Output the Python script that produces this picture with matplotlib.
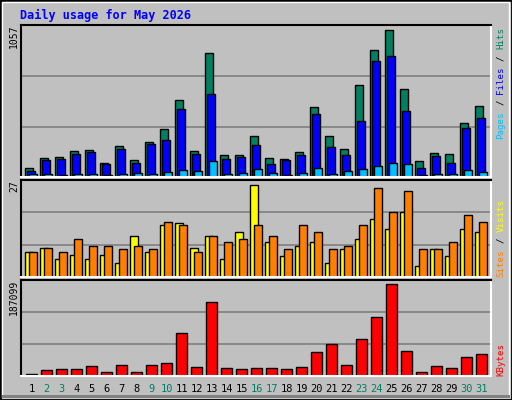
import matplotlib
matplotlib.use("Agg")
import matplotlib.pyplot as plt
from matplotlib.patches import Rectangle
import numpy as np

days = list(range(1, 32))
hits = [61,130,140,180,186,96,214,117,242,333,536,180,871,151,151,284,130,124,172,487,284,193,641,892,1032,613,110,165,158,375,494]
files = [44,117,126,158,172,89,193,96,228,256,473,158,578,124,137,221,89,117,151,438,207,151,389,809,850,459,61,144,96,340,410]
pages = [19,19,12,19,19,12,19,26,19,33,47,40,110,19,26,54,26,12,26,61,19,40,54,75,96,89,12,19,19,47,33]
visits = [7,8,5,6,5,6,4,11.5,7,14.5,15,8,11.5,5,12.6,25.6,9.8,5.9,8.7,9.8,4,7.9,10.6,16.2,13.4,18.1,3.1,7.9,5.9,13.4,12.6]
sites = [7,8,7,10.6,8.7,8.7,7.9,8.7,7.9,15.4,14.5,7,11.5,9.8,10.6,14.5,11.5,7.9,14.5,12.6,7.9,8.7,14.5,24.8,18.1,24,7.9,7.9,9.8,17.3,15.4]
kbytes = [3250,11000,13650,13650,18850,7150,20800,7150,20800,24700,83200,16900,143650,14950,13000,14950,14950,13000,16900,46150,61750,20800,71500,114400,178750,48100,7150,18850,14950,36400,42250]
weekend = [2,3,9,10,16,17,23,24,30,31]
max_hits, max_sites, max_kb = 1057, 27, 187099

BG = "#C0C0C0"
W, H = 512, 400
fig = plt.figure(figsize=(5.12, 4.0), dpi=100, facecolor=BG)
mono = "DejaVu Sans Mono"

def fx(px): return px / W
def fy(py): return 1 - py / H

fig.patches.append(Rectangle((0, 0), 1, 1, transform=fig.transFigure, fill=False, ec="black", lw=2))
fig.patches.append(Rectangle((fx(2), fy(397)), fx(507), 395/H, transform=fig.transFigure, fill=False, ec="white", lw=1))
fig.patches.append(Rectangle((fx(2), fy(398)), fx(508), 3/H, transform=fig.transFigure, fc="#808080", ec="none"))

x0 = 1 - 4/15
x1 = 1 + 466/15
d = np.array(days, dtype=float)

def mkax(top, bot):
    ax = fig.add_axes([fx(21), fy(bot), fx(470), (bot - top)/H])
    ax.set_facecolor(BG)
    ax.set_xlim(x0, x1)
    ax.set_xticks([]); ax.set_yticks([])
    ax.spines['top'].set_color('black'); ax.spines['left'].set_color('black')
    ax.spines['bottom'].set_color('white'); ax.spines['right'].set_color('white')
    for s in ax.spines.values(): s.set_linewidth(1.5)
    return ax

a1 = mkax(25, 177)
a1.set_ylim(0, max_hits * 152/151)
for g in (max_hits/3, 2*max_hits/3):
    a1.axhline(g, color="#808080", lw=1.2, zorder=0)
kw = dict(align='edge', edgecolor='black', linewidth=1)
a1.bar(d, hits, 8/15, color="#008060", **kw)
a1.bar(d + 2/15, files, 8/15, color="#0000FF", **kw)
a1.bar(d + 4/15, pages, 8/15, color="#00C0FF", **kw)

a2 = mkax(180, 277)
a2.set_ylim(0, max_sites)
for g in (9, 18):
    a2.axhline(g, color="#808080", lw=1.2, zorder=0)
a2.bar(d, visits, 8/15, color="#FFFF00", **kw)
a2.bar(d + 4/15, sites, 8/15, color="#FF8000", **kw)

a3 = mkax(280, 376)
a3.set_ylim(0, max_kb)
for g in (max_kb/3, 2*max_kb/3):
    a3.axhline(g, color="#808080", lw=1.2, zorder=0)
a3.bar(d + 1/15, kbytes, 11/15, color="#FF0000", **kw)

for i in days:
    px = 25 + 15*(i-1) + 6.5
    fig.text(fx(px), fy(389), str(i), ha='center', va='center', family=mono, fontsize=7.5,
             color="#008060" if i in weekend else "black")

fig.text(fx(20), fy(15), "Daily usage for May 2026", ha='left', va='center', family=mono,
         fontsize=8.5, fontweight='bold', color="#0000FF")

for top, lab in ((25, str(max_hits)), (180, str(max_sites)), (280, str(max_kb))):
    fig.text(fx(14), fy(top), lab, rotation=90, ha='center', va='top', family=mono, fontsize=7)

def rlabel(bottom, parts, cw=5.6):
    off = 0
    for s, c in parts:
        n = len(s)
        t = s.strip()
        lead = len(s) - len(s.lstrip())
        fig.text(fx(501), fy(bottom - (off + lead)*cw), t, rotation=90, ha='center', va='bottom',
                 family=mono, fontsize=6.6, color=c)
        off += n

rlabel(139, [("Pages", "#00C0FF"), (" / ", "black"), ("Files", "#0000FF"), (" / ", "black"), ("Hits", "#008060")])
rlabel(277, [("Sites", "#FF8000"), (" / ", "black"), ("Visits", "#FFFF00")])
rlabel(376, [("KBytes", "#FF0000")])

fig.savefig("out.png", dpi=100, facecolor=BG)
